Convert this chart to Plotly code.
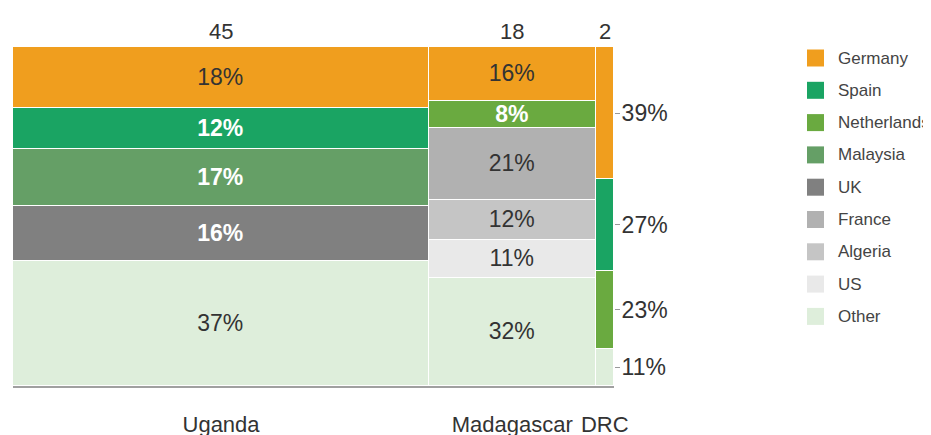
import plotly.graph_objects as go

# ---- data ----
countries = ["Uganda", "Madagascar", "DRC"]
totals = [45, 18, 2]
destinations = ["Germany", "Spain", "Netherlands", "Malaysia", "UK",
                "France", "Algeria", "US", "Other"]
germany = [18, 16, 39]
spain = [12, None, 27]
netherlands = [None, 8, 23]
malaysia = [17, None, None]
uk = [16, None, None]
france = [None, 21, None]
algeria = [None, 12, None]
us = [None, 11, None]
other = [37, 32, 11]
shares = [germany, spain, netherlands, malaysia, uk, france, algeria, us, other]
inside_labels = [True, True, False]  # DRC labelled on the right axis

colors = ["#f09e1e", "#1aa463", "#6aaa40", "#659f66", "#808080",
          "#b1b1b1", "#c5c5c5", "#e9e9e9", "#deeedb"]
white_bold = {"Spain", "Netherlands", "Malaysia", "UK"}

FONT = "Liberation Sans, Arial, sans-serif"
DARK = "#333333"

# column geometry from totals
lefts = [sum(totals[:i]) for i in range(len(totals))]
centers = [l + w / 2 for l, w in zip(lefts, totals)]
grand = sum(totals)

fig = go.Figure()
# stack from bottom (Other) to top (Germany)
for name, vals, col in reversed(list(zip(destinations, shares, colors))):
    texts = []
    for v, show in zip(vals, inside_labels):
        texts.append(f"{v}%" if (v is not None and show) else "")
    wb = name in white_bold
    fig.add_trace(go.Bar(
        x=centers, y=vals, width=totals, name=name,
        marker=dict(color=col, line=dict(color="white", width=1.5)),
        text=texts, textposition="inside", insidetextanchor="middle",
        constraintext="none",
        textfont=dict(family=FONT, size=23,
                      color="white" if wb else DARK,
                      weight="bold" if wb else "normal"),
        hoverinfo="skip", showlegend=False,
    ))

# right-side labels for the last column
last = [s[-1] for s in shares]
order_bottom_up = list(reversed(last))
tickvals, ticktext = [], []
acc = 0
for v in order_bottom_up:
    if v is None:
        continue
    tickvals.append(acc + v / 2)
    ticktext.append(f"{v}%")
    acc += v

# totals above columns
for c, t in zip(centers, totals):
    fig.add_annotation(x=c, y=1.0, xref="x", yref="paper", text=str(t),
                       showarrow=False, yanchor="bottom", yshift=1,
                       font=dict(family=FONT, size=22, color=DARK))

# page body has an 8px margin: work in figure pixels (screen pixel - 8)
OFF = 8
W, H = 931 - OFF, 435 - OFF
PL, PR, PT, PB = 13 - OFF, 614 - OFF, 47 - OFF, 386 - OFF
pw, ph = PR - PL, PB - PT
def px_x(p):
    return (p - OFF - PL) / pw
def px_y(p):
    return (PB - (p - OFF)) / ph

# manual legend (screen pixel positions)
for i, (name, col) in enumerate(zip(destinations, colors)):
    cy = 58 + i * 32.3
    fig.add_shape(type="rect", xref="paper", yref="paper",
                  x0=px_x(807), x1=px_x(824), y0=px_y(cy + 8.5), y1=px_y(cy - 8.5),
                  fillcolor=col, line=dict(width=0))
    fig.add_annotation(x=px_x(836), y=px_y(cy), xref="paper", yref="paper",
                       text=name, showarrow=False, xanchor="left", yanchor="middle",
                       font=dict(family=FONT, size=17, color="#444444"))

fig.update_layout(
    width=W, height=H,
    margin=dict(l=PL, r=W - PR, t=PT, b=H - PB, autoexpand=False),
    paper_bgcolor="white", plot_bgcolor="white",
    barmode="stack", bargap=0,
    xaxis=dict(range=[0, grand], tickvals=centers, ticktext=countries,
               tickangle=0, showgrid=False, zeroline=False, automargin=False,
               showline=True, linecolor="#a0a0a0", linewidth=2,
               ticks="", ticklabelstandoff=18,
               tickfont=dict(family=FONT, size=22, color=DARK)),
    yaxis=dict(range=[0, 100], side="right", tickvals=tickvals, ticktext=ticktext,
               ticks="outside", ticklen=5, tickcolor="#999999", tickwidth=1,
               showgrid=False, zeroline=False, showline=False, automargin=False,
               ticklabelstandoff=-3,
               tickfont=dict(family=FONT, size=23, color=DARK)),
    showlegend=False,
)

fig.write_html("out.html")
